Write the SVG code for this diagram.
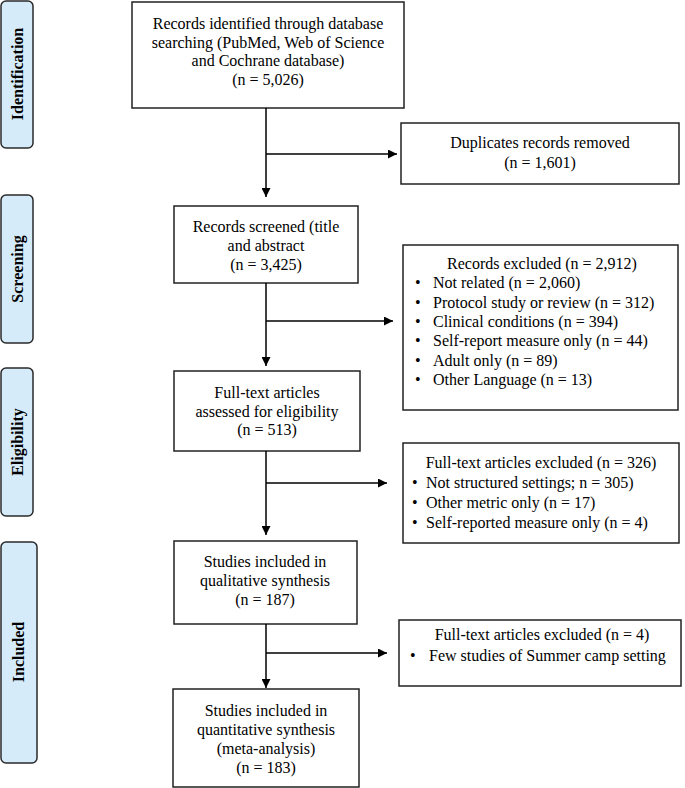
<svg xmlns="http://www.w3.org/2000/svg" width="685" height="788" viewBox="0 0 685 788">
<style>
.box{fill:#fff;stroke:#222;stroke-width:1.5}
.side{fill:#d5ebfa;stroke:#2a2a2a;stroke-width:1.5}
.t{font-family:"Liberation Serif","Times New Roman",serif;font-size:16px;fill:#000}
.c{text-anchor:middle}
.lab{font-family:"Liberation Serif","Times New Roman",serif;font-size:16px;font-weight:bold;fill:#000;text-anchor:middle}
.ln{fill:none;stroke:#000;stroke-width:1.5}
</style>
<defs>
<marker id="ah" viewBox="0 0 10 10" refX="10" refY="5" markerWidth="9" markerHeight="9" markerUnits="userSpaceOnUse" orient="auto">
<path d="M0,0 L10,5 L0,10 z" fill="#000"/>
</marker>
</defs>

<g id="phase-identification">
<rect class="side" x="1" y="1" width="32" height="147" rx="5"/>
<text class="lab" transform="translate(23,74) rotate(-90)">Identification</text>
</g>
<g id="phase-screening">
<rect class="side" x="1" y="195" width="32" height="148" rx="5"/>
<text class="lab" transform="translate(23,269) rotate(-90)">Screening</text>
</g>
<g id="phase-eligibility">
<rect class="side" x="1" y="368" width="32" height="148" rx="5"/>
<text class="lab" transform="translate(23,442) rotate(-90)">Eligibility</text>
</g>
<g id="phase-included">
<rect class="side" x="1" y="542" width="36" height="221" rx="5"/>
<text class="lab" transform="translate(24,652) rotate(-90)">Included</text>
</g>

<g id="identified">
<rect class="box" x="132" y="2" width="272" height="106"/>
<text class="t c" x="268" y="28.5">Records identified through database</text>
<text class="t c" x="268" y="47.5">searching (PubMed, Web of Science</text>
<text class="t c" x="268" y="66">and Cochrane database)</text>
<text class="t c" x="268" y="84.5">(n = 5,026)</text>
</g>

<g id="duplicates">
<rect class="box" x="401" y="123" width="278" height="61"/>
<text class="t c" x="540" y="148">Duplicates records removed</text>
<text class="t c" x="540" y="168">(n = 1,601)</text>
</g>

<g id="screened">
<rect class="box" x="174" y="206" width="184" height="77"/>
<text class="t c" x="266" y="232">Records screened (title</text>
<text class="t c" x="266" y="251">and abstract</text>
<text class="t c" x="266" y="270">(n = 3,425)</text>
</g>

<g id="records-excluded">
<rect class="box" x="403" y="245" width="275" height="165"/>
<text class="t c" x="542" y="269">Records excluded (n = 2,912)</text>
<text class="t" x="415" y="288.3">•</text><text class="t" x="433" y="288.3">Not related (n = 2,060)</text>
<text class="t" x="415" y="307.6">•</text><text class="t" x="433" y="307.6">Protocol study or review (n = 312)</text>
<text class="t" x="415" y="326.9">•</text><text class="t" x="433" y="326.9">Clinical conditions (n = 394)</text>
<text class="t" x="415" y="346.2">•</text><text class="t" x="433" y="346.2">Self-report measure only (n = 44)</text>
<text class="t" x="415" y="365.5">•</text><text class="t" x="433" y="365.5">Adult only (n = 89)</text>
<text class="t" x="415" y="384.8">•</text><text class="t" x="433" y="384.8">Other Language (n = 13)</text>
</g>

<g id="fulltext-assessed">
<rect class="box" x="174" y="371" width="186" height="80"/>
<text class="t c" x="267" y="398">Full-text articles</text>
<text class="t c" x="267" y="417">assessed for eligibility</text>
<text class="t c" x="267" y="435">(n = 513)</text>
</g>

<g id="fulltext-excluded">
<rect class="box" x="403" y="443" width="276" height="100"/>
<text class="t c" x="541" y="468">Full-text articles excluded (n = 326)</text>
<text class="t" x="412" y="488">•</text><text class="t" x="426" y="488">Not structured settings; n = 305)</text>
<text class="t" x="412" y="508">•</text><text class="t" x="426" y="508">Other metric only (n = 17)</text>
<text class="t" x="412" y="528">•</text><text class="t" x="426" y="528">Self-reported measure only (n = 4)</text>
</g>

<g id="qualitative">
<rect class="box" x="174" y="541" width="183" height="83"/>
<text class="t c" x="265" y="567">Studies included in</text>
<text class="t c" x="265" y="585.5">qualitative synthesis</text>
<text class="t c" x="265" y="605">(n = 187)</text>
</g>

<g id="camp-excluded">
<rect class="box" x="399" y="620" width="282" height="66"/>
<text class="t c" x="542" y="640">Full-text articles excluded (n = 4)</text>
<text class="t" x="410" y="661">•</text><text class="t" x="429" y="661">Few studies of Summer camp setting</text>
</g>

<g id="quantitative">
<rect class="box" x="173" y="689" width="186" height="98"/>
<text class="t c" x="266" y="716">Studies included in</text>
<text class="t c" x="266" y="735">quantitative synthesis</text>
<text class="t c" x="266" y="754">(meta-analysis)</text>
<text class="t c" x="266" y="773">(n = 183)</text>
</g>

<g id="connectors">
<line class="ln" x1="266" y1="108" x2="266" y2="197" marker-end="url(#ah)"/>
<line class="ln" x1="266" y1="154" x2="397" y2="154" marker-end="url(#ah)"/>
<line class="ln" x1="266" y1="283" x2="266" y2="366" marker-end="url(#ah)"/>
<line class="ln" x1="266" y1="321" x2="393" y2="321" marker-end="url(#ah)"/>
<line class="ln" x1="266" y1="451" x2="266" y2="535" marker-end="url(#ah)"/>
<line class="ln" x1="266" y1="483" x2="387" y2="483" marker-end="url(#ah)"/>
<line class="ln" x1="266" y1="624" x2="266" y2="688" marker-end="url(#ah)"/>
<line class="ln" x1="266" y1="653" x2="387" y2="653" marker-end="url(#ah)"/>
</g>
</svg>
